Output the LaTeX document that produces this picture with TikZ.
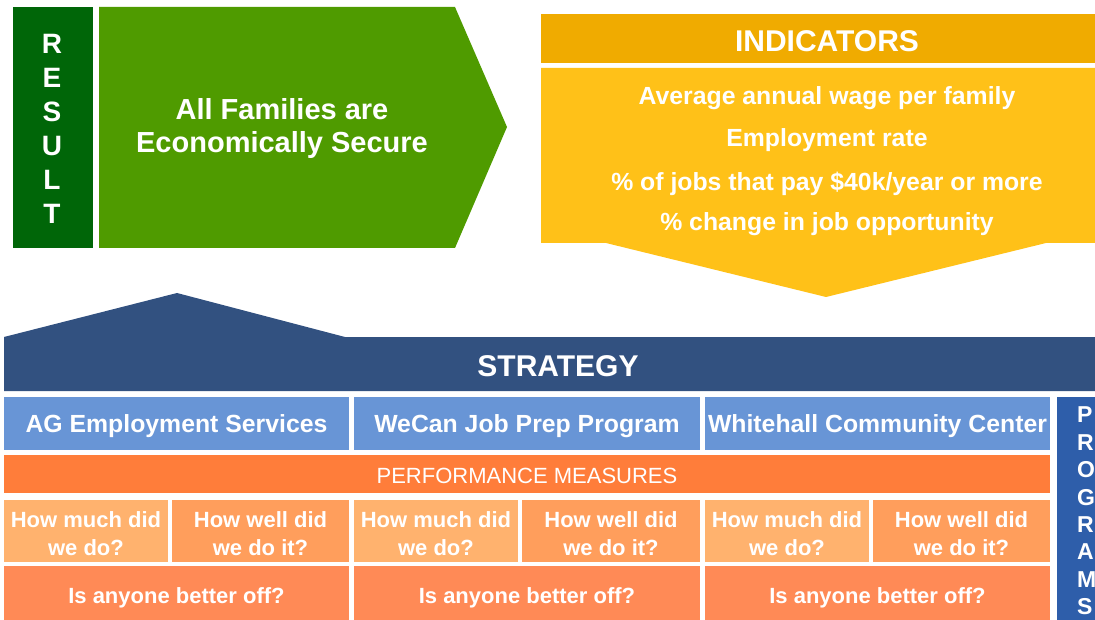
\documentclass[tikz,border=0pt]{standalone}
\usepackage{fontspec}
\setmainfont{Liberation Sans}
\definecolor{resdark}{RGB}{0,102,8}
\definecolor{resgreen}{RGB}{79,155,0}
\definecolor{indhead}{RGB}{240,171,0}
\definecolor{indbody}{RGB}{255,193,24}
\definecolor{strat}{RGB}{50,81,128}
\definecolor{progbox}{RGB}{104,149,214}
\definecolor{progbar}{RGB}{46,94,170}
\definecolor{perf}{RGB}{255,125,58}
\definecolor{much}{RGB}{255,178,110}
\definecolor{well}{RGB}{255,158,92}
\definecolor{better}{RGB}{255,138,86}
\begin{document}
\begin{tikzpicture}[x=1pt,y=-1pt,
  txt/.style={text=white,align=center,inner sep=0pt,font=\bfseries\fontsize{22}{28}\selectfont},
  bigtxt/.style={txt,font=\bfseries\fontsize{29}{33}\selectfont},
  headtxt/.style={txt,font=\bfseries\fontsize{30}{34}\selectfont},
  indtxt/.style={txt,font=\bfseries\fontsize{24.8}{28}\selectfont}]
\useasboundingbox (0,0) rectangle (1095,620);
% RESULT
\fill[resdark] (13,7) rectangle (93,248);
\node[txt,font=\bfseries\fontsize{28}{34}\selectfont] (res) at (52,128.5) {R\\E\\S\\U\\L\\T};
\fill[resgreen] (99,7) -- (455,7) -- (507,127) -- (455,248) -- (99,248) -- cycle;
\node[bigtxt] (fam) at (282,128.5) {All Families are\\Economically Secure};
% INDICATORS
\fill[indhead] (541,14) rectangle (1095,63);
\node[headtxt] (indh) at (827,41) {INDICATORS};
\fill[indbody] (541,68) -- (1095,68) -- (1095,243) -- (1046,243) -- (826,297) -- (606,243) -- (541,243) -- cycle;
\node[indtxt] (i1) at (827,98.5) {Average annual wage per family};
\node[indtxt] (i2) at (827,140.5) {Employment rate};
\node[indtxt] (i3) at (827,184) {\% of jobs that pay \$40k/year or more};
\node[indtxt] (i4) at (827,224) {\% change in job opportunity};
% STRATEGY
\fill[strat] (4,337) -- (177,293) -- (345,337) -- (1095,337) -- (1095,391) -- (4,391) -- cycle;
\node[headtxt] (str) at (558,366) {STRATEGY};
% programs
\fill[progbox] (4,397) rectangle (349,450);
\fill[progbox] (354,397) rectangle (700,450);
\fill[progbox] (705,397) rectangle (1050,450);
\node[indtxt] (p1) at (176.5,426.5) {AG Employment Services};
\node[indtxt] (p2) at (527,426.5) {WeCan Job Prep Program};
\node[indtxt] (p3) at (877.5,426.5) {Whitehall Community Center};
\fill[progbar] (1057,397) rectangle (1095,620);
\node[txt,align=left,anchor=west,font=\bfseries\fontsize{23}{27.4}\selectfont] (progs) at (1077,511) {P\\R\\O\\G\\R\\A\\M\\S};
% performance measures
\fill[perf] (4,455) rectangle (1050,493);
\node[txt,font=\fontsize{22}{26}\selectfont] (pm) at (527,476) {PERFORMANCE MEASURES};
% questions
\fill[much] (4,500) rectangle (168,562);
\fill[well] (172,500) rectangle (349,562);
\fill[much] (354,500) rectangle (518,562);
\fill[well] (522,500) rectangle (700,562);
\fill[much] (705,500) rectangle (869,562);
\fill[well] (873,500) rectangle (1050,562);
\node[txt] (q1) at (86,533.5) {How much did\\we do?};
\node[txt] (q2) at (260.5,533.5) {How well did\\we do it?};
\node[txt] (q3) at (436,533.5) {How much did\\we do?};
\node[txt] (q4) at (611,533.5) {How well did\\we do it?};
\node[txt] (q5) at (787,533.5) {How much did\\we do?};
\node[txt] (q6) at (961.5,533.5) {How well did\\we do it?};
\fill[better] (4,566) rectangle (349,620);
\fill[better] (354,566) rectangle (700,620);
\fill[better] (705,566) rectangle (1050,620);
\node[txt] (b1) at (176.5,598) {Is anyone better off?};
\node[txt] (b2) at (527,598) {Is anyone better off?};
\node[txt] (b3) at (877.5,598) {Is anyone better off?};
\end{tikzpicture}
\end{document}
